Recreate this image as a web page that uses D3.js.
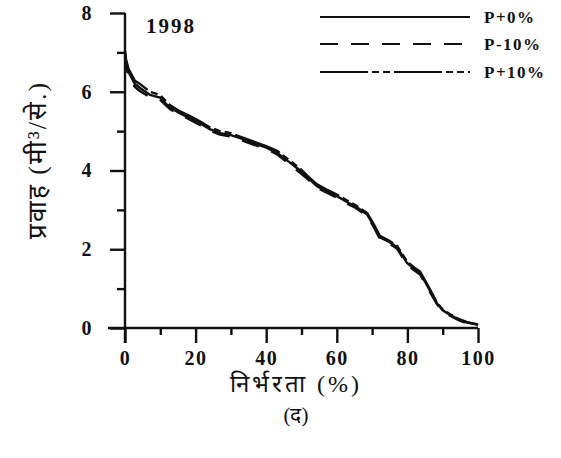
<!DOCTYPE html>
<html>
<head>
<meta charset="utf-8">
<script src="https://cdn.jsdelivr.net/npm/d3@7"></script>
<style>
  body { margin: 0; background: #fff; }
  svg text { font-family: "Liberation Serif", "DejaVu Serif", serif; fill: #111; }
</style>
</head>
<body>
<svg id="chart"></svg>
<script>
// dependability (%) vs flow (m3/s), year 1998
var percent = [0, 0.3, 1, 2.8, 4.2, 7.1, 9.9, 12.7, 15.6, 18, 21.2, 24, 26.9, 30, 32.6, 36.3, 40, 43.1, 46, 49.6,
    52, 54.4, 57, 60, 62.9, 65.5, 68.6, 70.5, 72.2, 75, 77.1, 79.9, 82, 83.6, 86.4, 88.4, 90, 92.1, 94.5, 96.9, 100];
var flowP0 = [7.0, 6.75, 6.5, 6.2, 6.1, 5.92, 5.85, 5.6, 5.45, 5.35, 5.2, 5.05, 4.95, 4.9, 4.82, 4.7, 4.58, 4.45, 4.25, 4.0,
    3.8, 3.6, 3.48, 3.35, 3.2, 3.08, 2.88, 2.6, 2.3, 2.18, 2.05, 1.65, 1.5, 1.4, 0.95, 0.62, 0.45, 0.33, 0.22, 0.14, 0.08];
var flowM10 = [6.92, 6.65, 6.4, 6.12, 6.02, 5.86, 5.8, 5.56, 5.41, 5.31, 5.16, 5.01, 4.91, 4.86, 4.78, 4.66, 4.55, 4.41, 4.2, 3.94,
    3.76, 3.56, 3.44, 3.31, 3.16, 3.04, 2.84, 2.56, 2.26, 2.14, 2.01, 1.61, 1.46, 1.36, 0.91, 0.6, 0.43, 0.31, 0.2, 0.12, 0.06];
var flowP10 = [7.05, 6.82, 6.58, 6.28, 6.2, 6.0, 5.92, 5.66, 5.5, 5.4, 5.25, 5.1, 5.0, 4.95, 4.86, 4.74, 4.62, 4.5, 4.3, 4.05,
    3.84, 3.65, 3.52, 3.39, 3.24, 3.11, 2.92, 2.63, 2.34, 2.21, 2.08, 1.69, 1.53, 1.43, 0.98, 0.64, 0.47, 0.35, 0.23, 0.15, 0.09];
var seriesNames = ["P+0%", "P-10%", "P+10%"];
var seriesDash = ["none", "18,13", "48,4,7,4,7,4"];
var xTicks = [0, 20, 40, 60, 80, 100];
var yTicks = [0, 2, 4, 6, 8];

var width = 561, height = 458;
var svg = d3.select("#chart").attr("width", width).attr("height", height);

var x = d3.scaleLinear().domain([0, 100]).range([125, 478]);
var y = d3.scaleLinear().domain([0, 8]).range([328, 13]);

// x axis, major and minor ticks pointing down
svg.append("g")
    .attr("transform", "translate(0," + y(0) + ")")
    .call(d3.axisBottom(x).tickValues(d3.range(10, 100, 20)).tickSize(7).tickFormat(""))
    .call(function(g){ g.select(".domain").remove(); });
var xAxis = svg.append("g")
    .attr("transform", "translate(0," + y(0) + ")")
    .call(d3.axisBottom(x).tickValues(xTicks).tickSize(15).tickPadding(8));
xAxis.select(".domain").attr("d", "M108,0H" + x(100));

// y axis, ticks pointing left
svg.append("g")
    .attr("transform", "translate(" + x(0) + ",0)")
    .call(d3.axisLeft(y).tickValues([1, 3, 5, 7]).tickSize(8).tickFormat(""))
    .call(function(g){ g.select(".domain").remove(); });
var yAxis = svg.append("g")
    .attr("transform", "translate(" + x(0) + ",0)")
    .call(d3.axisLeft(y).tickValues(yTicks).tickSize(15).tickPadding(17));
yAxis.select(".domain").attr("d", "M0," + y(8) + "V" + (y(0) + 15));

svg.selectAll(".tick line, .domain").attr("stroke", "#111").attr("stroke-width", 2.4);
svg.selectAll(".tick text")
    .attr("font-family", "Liberation Serif")
    .attr("font-weight", "bold")
    .attr("font-size", 20)
    .attr("letter-spacing", 1.5)
    .attr("fill", "#111");

// curves
var line = d3.line()
    .x(function(d){ return x(d[0]); })
    .y(function(d){ return y(d[1]); });
var allFlows = [flowP0, flowM10, flowP10];
allFlows.forEach(function(f, i){
    svg.append("path")
        .datum(percent.map(function(p, j){ return [p, f[j]]; }))
        .attr("d", line)
        .attr("fill", "none")
        .attr("stroke", "#111")
        .attr("stroke-width", 2.4)
        .attr("stroke-dasharray", seriesDash[i]);
});

// year label
svg.append("text")
    .attr("x", 146).attr("y", 33)
    .attr("font-weight", "bold").attr("font-size", 21)
    .attr("letter-spacing", 2)
    .text("1998");

// legend
var legendY = [17, 44, 72];
seriesNames.forEach(function(name, i){
    svg.append("line")
        .attr("x1", 320).attr("x2", 470)
        .attr("y1", legendY[i]).attr("y2", legendY[i])
        .attr("stroke", "#111").attr("stroke-width", 2.2)
        .attr("stroke-dasharray", seriesDash[i]);
    svg.append("text")
        .attr("x", 484).attr("y", legendY[i] + 6)
        .attr("font-weight", "bold").attr("font-size", 17)
        .attr("letter-spacing", 1.5)
        .text(name);
});

// axis titles
svg.append("text")
    .attr("transform", "translate(46,160) rotate(-90)")
    .attr("text-anchor", "middle")
    .attr("font-size", 26)
    .attr("letter-spacing", 2)
    .text("प्रवाह (मी³/से.)");
svg.append("text")
    .attr("x", 296).attr("y", 392)
    .attr("text-anchor", "middle")
    .attr("font-size", 24)
    .attr("letter-spacing", 3)
    .text("निर्भरता (%)");
svg.append("text")
    .attr("x", 296).attr("y", 422)
    .attr("text-anchor", "middle")
    .attr("font-size", 21)
    .text("(द)");
</script>
</body>
</html>
